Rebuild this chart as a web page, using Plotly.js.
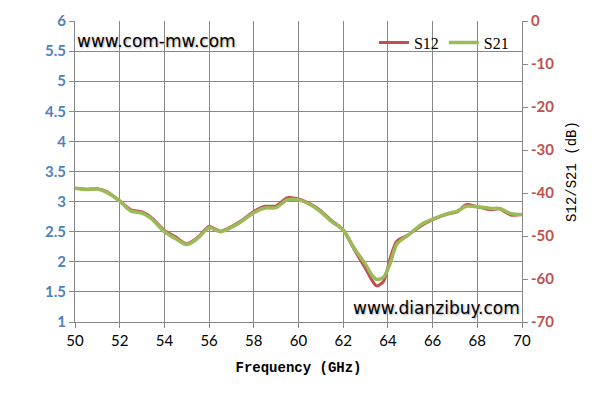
<!DOCTYPE html>
<html>
<head>
<meta charset="utf-8">
<script src="https://cdn.plot.ly/plotly-3.0.1.min.js"></script>
<style>html,body{margin:0;padding:0;background:#fff;}#chart{width:595px;height:402px;}</style>
</head>
<body>
<div id="chart"></div>
<script>
var freq = [50, 50.5, 51, 51.4, 52, 52.5, 53, 53.4, 54, 54.5, 55, 55.5, 56, 56.5, 57, 57.4, 58, 58.5, 59, 59.5, 60, 60.8, 61.5, 62, 62.5, 63, 63.3, 63.5, 63.8, 64.1, 64.4, 64.9, 65.5, 66, 66.6, 67.1, 67.5, 68, 68.6, 69, 69.5, 70];
var s21 = [-38.9, -39.2, -39.1, -39.8, -41.9, -44.2, -44.7, -45.9, -49.0, -50.6, -52.0, -50.5, -48.1, -49.0, -48.0, -46.8, -44.6, -43.5, -43.4, -41.6, -41.6, -43.6, -46.7, -48.6, -52.9, -56.6, -59.2, -60.1, -59.6, -56.4, -51.9, -49.8, -47.3, -46.1, -44.9, -44.2, -43.1, -43.2, -43.6, -43.6, -44.8, -45.0];
var s12 = [-38.9, -39.1, -39.0, -39.6, -41.8, -43.9, -44.4, -45.6, -48.7, -50.2, -51.8, -50.3, -47.8, -48.9, -47.8, -46.6, -44.3, -43.1, -43.0, -41.1, -41.4, -43.4, -46.5, -48.6, -53.2, -57.6, -60.4, -61.6, -60.6, -55.2, -51.2, -49.8, -47.6, -46.2, -45.0, -44.4, -42.7, -43.2, -43.9, -43.7, -45.1, -45.0];
var leftTickVals = [1, 1.5, 2, 2.5, 3, 3.5, 4, 4.5, 5, 5.5, 6];
var rightTickVals = [-70, -60, -50, -40, -30, -20, -10, 0];
var rightTickText = ['-70', '-60', '-50', '-40', '-30', '-20', '-10', '0'];
var seriesNames = ['S12', 'S21'];

var gridCol = '#888888';
var traces = [
  {x: [50], y: [1], yaxis: 'y', xaxis: 'x', mode: 'markers', marker: {opacity: 0}, showlegend: false, hoverinfo: 'skip'},
  {x: freq, y: s12, name: seriesNames[0], yaxis: 'y2', mode: 'lines', line: {color: '#C0504D', width: 3, shape: 'spline', smoothing: 0.8}},
  {x: freq, y: s21, name: seriesNames[1], yaxis: 'y2', mode: 'lines', line: {color: '#9BBB59', width: 3.5, shape: 'spline', smoothing: 0.8}}
];

var layout = {
  width: 595, height: 402,
  margin: {l: 75, r: 73, t: 21, b: 80},
  paper_bgcolor: '#ffffff', plot_bgcolor: '#ffffff',
  showlegend: true,
  legend: {orientation: 'h', x: 0.982, xanchor: 'right', y: 0.985, yanchor: 'top', bgcolor: 'rgba(0,0,0,0)',
    font: {family: 'Liberation Serif', size: 16, color: '#000'}, itemwidth: 30, tracegroupgap: 0},
  xaxis: {range: [50, 70], dtick: 2, tick0: 50, showgrid: true, gridcolor: gridCol, gridwidth: 1,
    showline: true, linecolor: gridCol, linewidth: 1, mirror: false, zeroline: false,
    ticks: 'outside', ticklen: 5, tickcolor: gridCol,
    tickfont: {family: 'Lato', size: 15, color: '#000'},
    title: {text: 'Frequency (GHz)', standoff: 14, font: {family: 'Liberation Mono', size: 14, color: '#000', weight: 'bold'}}},
  yaxis: {range: [1, 6], tickvals: leftTickVals, showgrid: true, gridcolor: gridCol, gridwidth: 1,
    showline: true, linecolor: gridCol, linewidth: 1, zeroline: false,
    ticks: 'outside', ticklen: 5, tickcolor: gridCol,
    tickfont: {family: 'Lato', size: 15, color: '#4F81BD', weight: 'bold'}},
  yaxis2: {range: [-70, 0], tickvals: rightTickVals, ticktext: rightTickText, overlaying: 'y', side: 'right', showgrid: false,
    showline: true, linecolor: gridCol, linewidth: 1, zeroline: false,
    ticks: 'outside', ticklen: 5, tickcolor: gridCol,
    tickfont: {family: 'Lato', size: 15, color: '#C0504D', weight: 'bold'},
    title: {text: 'S12/S21 (dB)', standoff: 12, font: {family: 'Liberation Mono', size: 14, color: '#000'}}},
  annotations: [
    {text: 'www.com-mw.com', xref: 'paper', yref: 'paper', x: 0, xanchor: 'left', y: 0.935, yanchor: 'middle', showarrow: false,
      font: {family: 'DejaVu Sans', size: 17, color: '#000', shadow: '1px 1px 2px #aaaaaa'}},
    {text: 'www.dianzibuy.com', xref: 'paper', yref: 'paper', x: 1, xanchor: 'right', y: 0.045, yanchor: 'middle', showarrow: false,
      font: {family: 'DejaVu Sans', size: 17, color: '#000', shadow: '1px 1px 2px #aaaaaa'}}
  ]
};

Plotly.newPlot('chart', traces, layout, {displayModeBar: false, staticPlot: true});
</script>
</body>
</html>
